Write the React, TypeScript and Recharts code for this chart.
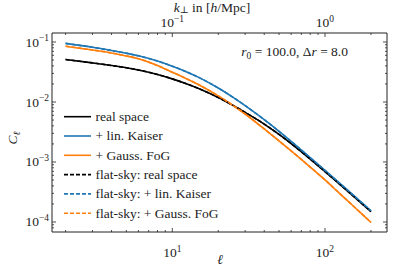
import React from 'react';
import { LineChart, Line, XAxis, YAxis, Legend } from 'recharts';

const FONT = "'Liberation Serif', 'DejaVu Serif', serif";
const W = 407;
const H = 267;

// multipole ell
const ELL = [2, 3, 4, 5, 6, 8, 10, 12, 15, 20, 25, 30, 40, 50, 60, 80, 100, 125, 150, 200];
// C_ell real space
const REAL = [0.0511, 0.0449, 0.0406, 0.0372, 0.0342, 0.0288, 0.0243, 0.0207, 0.0166, 0.01186, 0.00877, 0.00673, 0.00429, 0.00288, 0.00203, 0.00112, 6.92e-4, 4.24e-4, 2.83e-4, 1.49e-4];
// + lin. Kaiser
const KAISER = [0.0948, 0.0817, 0.0723, 0.065, 0.0589, 0.0481, 0.0395, 0.033, 0.0255, 0.0171, 0.01197, 0.00871, 0.00507, 0.00324, 0.00221, 0.00118, 7.23e-4, 4.41e-4, 2.94e-4, 1.54e-4];
// + Gauss. FoG
const FOG = [0.0851, 0.0736, 0.0656, 0.0586, 0.0526, 0.0406, 0.0313, 0.0254, 0.0192, 0.01265, 0.00875, 0.00631, 0.00355, 0.00224, 0.00153, 8.24e-4, 5.02e-4, 2.97e-4, 1.94e-4, 9.84e-5];

const X_TICKS = [2, 3, 4, 5, 6, 7, 8, 9, 10, 20, 30, 40, 50, 60, 70, 80, 90, 100, 200];
const Y_TICKS = [
  8e-5, 9e-5,
  1e-4, 2e-4, 3e-4, 4e-4, 5e-4, 6e-4, 7e-4, 8e-4, 9e-4,
  1e-3, 2e-3, 3e-3, 4e-3, 5e-3, 6e-3, 7e-3, 8e-3, 9e-3,
  1e-2, 2e-2, 3e-2, 4e-2, 5e-2, 6e-2, 7e-2, 8e-2, 9e-2,
  1e-1,
];
const X_DOMAIN = [1.63, 254.7];
const Y_DOMAIN = [6.81e-5, 0.1413];
const R0 = 100;

const SERIES = [
  { key: 'real', name: 'real space', color: '#000000', dashed: false },
  { key: 'kaiser', name: '+ lin. Kaiser', color: '#1f77b4', dashed: false },
  { key: 'fog', name: '+ Gauss. FoG', color: '#ff7f0e', dashed: false },
  { key: 'real', name: 'flat-sky: real space', color: '#000000', dashed: true },
  { key: 'kaiser', name: 'flat-sky: + lin. Kaiser', color: '#1f77b4', dashed: true },
  { key: 'fog', name: 'flat-sky: + Gauss. FoG', color: '#ff7f0e', dashed: true },
];

const data = ELL.map((l, i) => ({ l, real: REAL[i], kaiser: KAISER[i], fog: FOG[i] }));

const isMajor = (v: number) => {
  const l = Math.log10(v);
  return Math.abs(l - Math.round(l)) < 1e-6;
};
const fmtExp = (e: number) => (e < 0 ? '\u2212' + String(-e) : String(e));
const TXT = '#222';
const FS = 13.5;
const SFS = 9.5;

const BottomTick = (p: any) => {
  const { x, y, payload } = p;
  const v = payload.value;
  const m = isMajor(v);
  return (
    <g>
      <line x1={x} x2={x} y1={y} y2={y - (m ? 4 : 2)} stroke={TXT} strokeWidth={0.8} />
      {m && (
        <text x={x} y={y + 25} textAnchor="middle" fontFamily={FONT} fontSize={FS} fill={TXT}>
          10<tspan fontSize={SFS} dy={-5.5}>{fmtExp(Math.round(Math.log10(v)))}</tspan>
        </text>
      )}
    </g>
  );
};

const TopTick = (p: any) => {
  const { x, y, payload } = p;
  const v = payload.value;
  const m = isMajor(v);
  return (
    <g>
      <line x1={x} x2={x} y1={y} y2={y + (m ? 4 : 2)} stroke={TXT} strokeWidth={0.8} />
      {m && (
        <text x={x} y={y - 6.5} textAnchor="middle" fontFamily={FONT} fontSize={FS} fill={TXT}>
          10<tspan fontSize={SFS} dy={-5}>{fmtExp(Math.round(Math.log10(v / R0)))}</tspan>
        </text>
      )}
    </g>
  );
};

const LeftTick = (p: any) => {
  const { x, y, payload } = p;
  const v = payload.value;
  const m = isMajor(v);
  return (
    <g>
      <line x1={x} x2={x + (m ? 4 : 2)} y1={y} y2={y} stroke={TXT} strokeWidth={0.8} />
      {m && (
        <text x={x - 3} y={y + 4.5} textAnchor="end" fontFamily={FONT} fontSize={FS} fill={TXT}>
          10<tspan fontSize={SFS} dy={-5.5}>{fmtExp(Math.round(Math.log10(v)))}</tspan>
        </text>
      )}
    </g>
  );
};

const RightTick = (p: any) => {
  const { x, y, payload } = p;
  const m = isMajor(payload.value);
  return <line x1={x} x2={x - (m ? 4 : 2)} y1={y} y2={y} stroke={TXT} strokeWidth={0.8} />;
};

const LegendBox = () => (
  <svg width={W} height={H} style={{ position: 'absolute', left: 0, top: 0, pointerEvents: 'none' }}>
    {SERIES.map((s, i) => {
      const cy = 116.7 + i * 19.3;
      return (
        <g key={i}>
          <line x1={64} x2={91} y1={cy} y2={cy} stroke={s.color} strokeWidth={1.6} strokeDasharray={s.dashed ? '4 2' : undefined} />
          <text x={95.5} y={cy + 4.3} fontFamily={FONT} fontSize={FS} fill={TXT}>{s.name}</text>
        </g>
      );
    })}
  </svg>
);

export default function App() {
  return (
    <div style={{ position: 'absolute', left: 0, top: 0, width: W, height: H, background: '#fff' }}>
      <LineChart width={W} height={H} data={data} margin={{ top: 0, right: 0, bottom: 0, left: 0 }}>
        <XAxis
          xAxisId="bottom"
          dataKey="l"
          type="number"
          scale="log"
          domain={X_DOMAIN}
          allowDataOverflow
          ticks={X_TICKS}
          interval={0}
          height={35}
          tickSize={0}
          tickMargin={0}
          tickLine={false}
          tick={<BottomTick />}
          axisLine={{ stroke: TXT, strokeWidth: 1 }}
        />
        <XAxis
          xAxisId="top"
          orientation="top"
          dataKey="l"
          type="number"
          scale="log"
          domain={X_DOMAIN}
          allowDataOverflow
          ticks={X_TICKS}
          interval={0}
          height={33}
          tickSize={0}
          tickMargin={0}
          tickLine={false}
          tick={<TopTick />}
          axisLine={{ stroke: TXT, strokeWidth: 1 }}
        />
        <YAxis
          yAxisId="left"
          type="number"
          scale="log"
          domain={Y_DOMAIN}
          allowDataOverflow
          ticks={Y_TICKS}
          interval={0}
          width={52}
          tickSize={0}
          tickMargin={0}
          tickLine={false}
          tick={<LeftTick />}
          axisLine={{ stroke: TXT, strokeWidth: 1 }}
        />
        <YAxis
          yAxisId="right"
          orientation="right"
          type="number"
          scale="log"
          domain={Y_DOMAIN}
          allowDataOverflow
          ticks={Y_TICKS}
          interval={0}
          width={20}
          tickSize={0}
          tickMargin={0}
          tickLine={false}
          tick={<RightTick />}
          axisLine={{ stroke: TXT, strokeWidth: 1 }}
        />
        {SERIES.map((s, i) => (
          <Line
            key={i}
            xAxisId={s.dashed ? 'top' : 'bottom'}
            yAxisId={s.dashed ? 'right' : 'left'}
            dataKey={s.key}
            name={s.name}
            type="monotone"
            stroke={s.color}
            strokeWidth={1.6}
            strokeDasharray={s.dashed ? '4 2' : undefined}
            dot={false}
            activeDot={false}
            isAnimationActive={false}
          />
        ))}
        <Legend
          layout="vertical"
          align="center"
          verticalAlign="middle"
          wrapperStyle={{ left: 0, top: 0, width: W, height: H }}
          content={() => <LegendBox />}
        />
      </LineChart>
      <svg width={W} height={H} style={{ position: 'absolute', left: 0, top: 0, pointerEvents: 'none' }}>
        <text x={212} y={11.5} textAnchor="middle" fontFamily={FONT} fontSize={FS} fill={TXT}>
          <tspan fontStyle="italic">k</tspan>
          <tspan fontSize={SFS} dy={1.5}>{'\u22A5'}</tspan>
          <tspan dy={-1.5}>{' in ['}</tspan>
          <tspan fontStyle="italic">h</tspan>
          <tspan>/Mpc]</tspan>
        </text>
        <text x={348} y={56} textAnchor="end" fontFamily={FONT} fontSize={FS} fill={TXT}>
          <tspan fontStyle="italic">r</tspan>
          <tspan fontSize={SFS} dy={3}>0</tspan>
          <tspan dy={-3}>{' = 100.0, \u0394'}</tspan>
          <tspan fontStyle="italic">r</tspan>
          <tspan>{' = 8.0'}</tspan>
        </text>
        <text x={220} y={264} textAnchor="middle" fontFamily={FONT} fontSize={FS} fill={TXT} fontStyle="italic">{'\u2113'}</text>
        <text transform="translate(17,138) rotate(-90)" textAnchor="middle" fontFamily={FONT} fontSize={FS} fill={TXT}>
          <tspan fontStyle="italic">C</tspan>
          <tspan fontSize={SFS} dy={3} fontStyle="italic">{'\u2113'}</tspan>
        </text>
      </svg>
    </div>
  );
}
